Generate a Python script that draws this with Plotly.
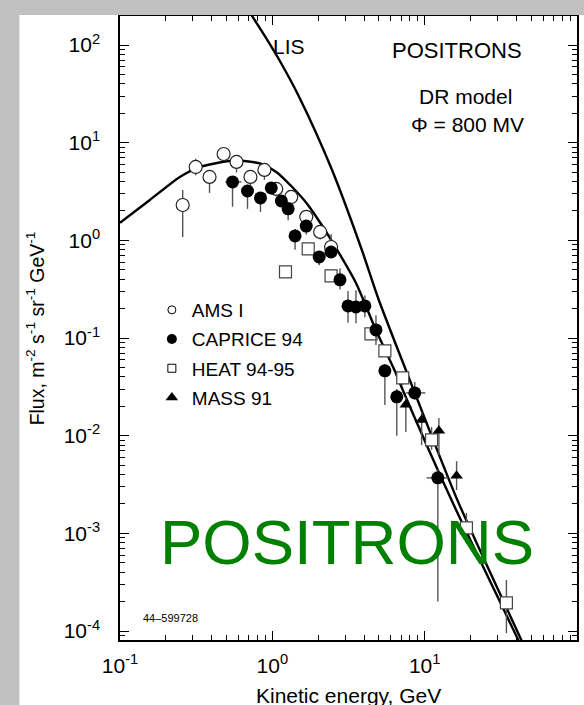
import plotly.graph_objects as go

# ---------------- data ----------------
ams_e  = [0.258, 0.314, 0.387, 0.479, 0.582, 0.718, 0.887, 1.06, 1.33, 1.67, 2.06, 2.43]
ams_f  = [2.30, 5.64, 4.46, 7.66, 6.35, 4.46, 5.26, 3.36, 2.78, 1.74, 1.22, 0.855]
ams_up = [0.98, 1.2, 0.6, 1.2, 0.8, 0.6, 0.6, 0.4, 0.3, 0.2, 0.15, 0.3]
ams_lo = [1.22, 1.0, 1.4, 1.1, 1.4, 0.9, 1.1, 0.5, 0.4, 0.3, 0.2, 0.1]

cap_e  = [0.548, 0.687, 0.836, 0.984, 1.146, 1.27, 1.41, 1.67, 2.03, 2.43, 2.78,
          3.14, 3.54, 4.05, 4.79, 5.48, 6.56, 8.61, 12.2]
cap_f  = [3.96, 3.20, 2.72, 3.44, 2.53, 2.10, 1.11, 1.40, 0.676, 0.760, 0.394,
          0.213, 0.208, 0.213, 0.121, 0.0461, 0.0250, 0.0274, 0.00370]
cap_up = [0.6, 0.5, 0.4, 0.5, 0.3, 0.3, 0.2, 0.2, 0.1, 0.1, 0.12,
          0.09, 0.10, 0.06, 0.05, 0.008, 0.005, 0.008, 0.0008]
cap_lo = [1.75, 1.1, 0.77, 0.5, 0.3, 0.49, 0.31, 0.25, 0.12, 0.08, 0.08,
          0.07, 0.066, 0.05, 0.036, 0.0255, 0.015, 0.004, 0.0035]
cap_xp = [0.08, 0, 0, 0, 0, 0, 0, 0, 0, 0, 0, 0, 0, 0, 0, 0, 0, 1.5, 2.1]
cap_xm = [0.057, 0, 0, 0, 0, 0, 0, 0, 0, 0, 0, 0, 0, 0, 0, 0, 0, 1.1, 1.9]

heat_e  = [1.22, 1.72, 2.43, 4.44, 5.48, 7.18, 11.1, 18.8, 34.4]
heat_f  = [0.475, 0.817, 0.432, 0.110, 0.0738, 0.0391, 0.00906, 0.00114, 0.000194]
heat_up = [0.0, 0.0, 0.05, 0.015, 0.01, 0.006, 0.0032, 0.00048, 0.000139]
heat_lo = [0.0, 0.0, 0.05, 0.015, 0.01, 0.006, 0.0019, 0.00034, 0.000099]

mass_e  = [7.52, 9.55, 12.4, 16.2]
mass_f  = [0.0207, 0.0145, 0.0112, 0.00388]
mass_up = [0.004, 0.003, 0.004, 0.0016]
mass_lo = [0.0098, 0.0065, 0.0049, 0.0011]

lis_e = [0.620, 0.729, 0.900, 1.111, 1.50, 2.466, 3.87, 5.00, 8.47, 16.4, 43.1, 50.0]
lis_f = [300, 203, 121, 70.2, 29.4, 5.25, 0.796, 0.245, 0.0294, 0.00219, 8.1e-5, 4.8e-5]

mod_e = [0.1, 0.157, 0.247, 0.333, 0.524, 0.656, 0.847, 1.062, 1.330, 1.694, 2.089,
         2.741, 3.540, 4.786, 6.46, 7.18, 15.0, 41.1, 47.9]
mod_f = [1.51, 2.59, 4.46, 5.63, 6.49, 6.49, 6.06, 5.01, 3.60, 2.36, 1.47,
         0.741, 0.366, 0.121, 0.0439, 0.0294, 0.00219, 8.1e-5, 4.8e-5]

x_tickvals = [0.1, 1, 10, 100]
x_ticktext = ["10<sup>-1</sup>", "10<sup>0</sup>", "10<sup>1</sup>", "10<sup>2</sup>"]
y_tickvals = [1e-4, 1e-3, 1e-2, 1e-1, 1, 10, 100]
y_ticktext = ["10<sup>-4</sup>", "10<sup>-3</sup>", "10<sup>-2</sup>", "10<sup>-1</sup>",
              "10<sup>0</sup>", "10<sup>1</sup>", "10<sup>2</sup>"]

legend_names = ["AMS I", "CAPRICE 94", "HEAT 94-95", "MASS 91"]

# ---------------- layout geometry ----------------
W, H = 584, 705
L, R, T, B = 120, 5, 16, 65
PW, PH = W - L - R, H - T - B
FONT = "Liberation Sans, Arial, Helvetica, sans-serif"
GRAY = "#c0c0c0"


def px(x):
    return (x - L) / PW


def py(y):
    return (H - B - y) / PH


ebar = dict(type="data", symmetric=False, color="#555555", thickness=1.4, width=0)

fig = go.Figure()

# curves
fig.add_trace(go.Scatter(x=lis_e, y=lis_f, mode="lines",
                         line=dict(color="black", width=2.4, shape="spline", smoothing=0.7),
                         showlegend=False, hoverinfo="skip"))
fig.add_trace(go.Scatter(x=mod_e, y=mod_f, mode="lines",
                         line=dict(color="black", width=2.4, shape="spline", smoothing=0.7),
                         showlegend=False, hoverinfo="skip"))

# data sets
fig.add_trace(go.Scatter(x=heat_e, y=heat_f, mode="markers", showlegend=False,
                         error_y=dict(ebar, array=heat_up, arrayminus=heat_lo),
                         marker=dict(symbol="square", size=12, color="white",
                                     line=dict(color="#444444", width=1.2))))
fig.add_trace(go.Scatter(x=ams_e, y=ams_f, mode="markers", showlegend=False,
                         error_y=dict(ebar, array=ams_up, arrayminus=ams_lo),
                         marker=dict(symbol="circle", size=13, color="white",
                                     line=dict(color="#222222", width=1.2))))
fig.add_trace(go.Scatter(x=cap_e, y=cap_f, mode="markers", showlegend=False,
                         error_y=dict(ebar, array=cap_up, arrayminus=cap_lo),
                         error_x=dict(ebar, array=cap_xp, arrayminus=cap_xm),
                         marker=dict(symbol="circle", size=13, color="black")))
fig.add_trace(go.Scatter(x=mass_e, y=mass_f, mode="markers", showlegend=False,
                         error_y=dict(ebar, array=mass_up, arrayminus=mass_lo),
                         marker=dict(symbol="triangle-up", size=11, color="black")))

# legend entries (small symbols)
leg_markers = [
    dict(symbol="circle", size=8, color="white", line=dict(color="black", width=1)),
    dict(symbol="circle", size=10, color="black"),
    dict(symbol="square", size=8, color="white", line=dict(color="black", width=1)),
    dict(symbol="triangle-up", size=11, color="black"),
]
for i, (name, mk) in enumerate(zip(legend_names, leg_markers)):
    fig.add_trace(go.Scatter(x=[None], y=[None], mode="markers", name=name, marker=mk,
                             legendgroup=f"g{i}", showlegend=True))

axis_common = dict(type="log", showline=True, linecolor="black", linewidth=1.5,
                   mirror="allticks", ticks="inside", ticklen=9, tickwidth=1.3,
                   tickcolor="black", showgrid=False, zeroline=False,
                   tickfont=dict(family=FONT, size=21, color="black"),
                   tickmode="array",
                   minor=dict(ticks="inside", ticklen=5, tickwidth=1, tickcolor="black",
                              dtick="D1", showgrid=False))

fig.update_xaxes(axis_common, range=[-1, 2], tickvals=x_tickvals, ticktext=x_ticktext,
                 ticklabelstandoff=6)
fig.update_yaxes(axis_common, range=[-4.092, 2.297], tickvals=y_tickvals, ticktext=y_ticktext,
                 ticklabelstandoff=14)

ann = []


def add_text(text, x, y, size, color="black", angle=0, xanchor="center"):
    ann.append(dict(text=text, x=px(x), y=py(y), xref="paper", yref="paper", showarrow=False,
                    xanchor=xanchor, yanchor="middle", textangle=angle,
                    font=dict(family=FONT, size=size, color=color)))


add_text("LIS", 290, 46, 21)
add_text("POSITRONS", 458, 50, 22)
add_text("DR model", 467, 97, 21)
add_text("\u03a6 = 800 MV", 469, 124, 21)
add_text("POSITRONS", 348, 542, 63.5, color="#008000")
add_text("44\u2013599728", 171, 618, 11)
add_text("Kinetic energy, GeV", 349, 696, 21)
add_text("Flux, m<sup>-2</sup> s<sup>-1</sup> sr<sup>-1</sup> GeV<sup>-1</sup>", 35, 328, 19.5, angle=-90)

# gray frame strips (left and top) around the white sheet
frame = [
    dict(type="rect", xref="paper", yref="paper", layer="above",
         x0=px(-20), x1=px(19), y0=py(H + 20), y1=py(-20),
         fillcolor=GRAY, line=dict(width=0)),
    dict(type="rect", xref="paper", yref="paper", layer="above",
         x0=px(-20), x1=px(W + 20), y0=py(15), y1=py(-20),
         fillcolor=GRAY, line=dict(width=0)),
]

fig.update_layout(
    width=W, height=H,
    margin=dict(l=L, r=R, t=T, b=B, pad=0),
    paper_bgcolor="white", plot_bgcolor="white",
    font=dict(family=FONT, color="black"),
    annotations=ann,
    shapes=frame,
    legend=dict(x=px(152), y=py(291), xanchor="left", yanchor="top",
                bgcolor="rgba(0,0,0,0)", borderwidth=0, tracegroupgap=1.5,
                itemwidth=30, font=dict(family=FONT, size=19, color="black")),
)

fig.write_html(
    "out.html",
    config={"displayModeBar": False},
    post_script=("document.documentElement.style.margin='0';"
                 "document.body.style.margin='0';document.body.style.padding='0';"
                 "document.documentElement.style.overflow='hidden';"
                 "document.body.style.overflow='hidden';"),
)
